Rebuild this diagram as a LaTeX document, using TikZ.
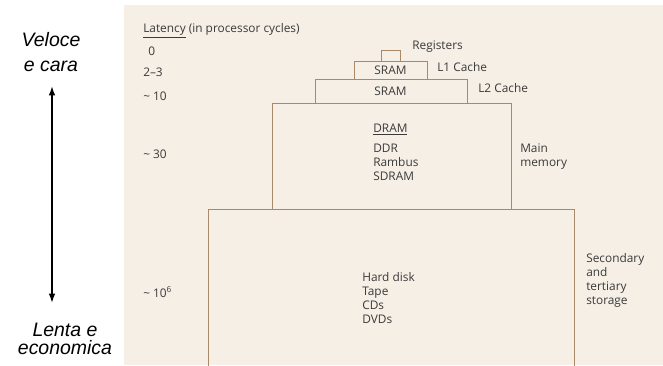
\documentclass[tikz,border=0pt]{standalone}
\usepackage{fontspec}
\setmainfont{Open Sans}
\newfontfamily\handfont{Liberation Sans}
\usetikzlibrary{arrows.meta,positioning}
\definecolor{paper}{HTML}{F6EFE6}
\definecolor{rule}{HTML}{A88A68}
\definecolor{ink}{HTML}{3A3A3A}

\begin{document}
\begin{tikzpicture}[x=0.75pt,y=-0.75pt,>=Latex,
 font=\fontsize{8.9}{10.5}\selectfont,text=ink,
 lvl/.style={draw=rule,line width=0.6pt},
 lbl/.style={inner sep=0,anchor=mid west},
 blk/.style={inner sep=0,anchor=north west,align=left},
 hand/.style={font=\handfont\itshape\fontsize{14.6}{19}\selectfont,text=black,inner sep=0,align=center,anchor=north}]
 \useasboundingbox (0,0) rectangle (663,365);
 \fill[paper] (124,5) rectangle (663,365);
 % latency column
 \node[lbl] (lat) at (143,29) {\underline{Latency} (in processor cycles)};
 \node[lbl] (c0) at (148,52) {0};
 \node[lbl] (c1) at (143,73) {2--3};
 \node[lbl] (c2) at (143,97) {\textasciitilde\ 10};
 \node[lbl] (c3) at (143,155) {\textasciitilde\ 30};
 \node[lbl] (c4) at (143,294) {\textasciitilde\ 10\textsuperscript{6}};
 % the levels
 \draw[lvl] (381,50) rectangle (400,61);
 \draw[lvl] (354,61) rectangle (427,79);
 \draw[lvl] (315,79) rectangle (467,103);
 \draw[lvl] (272,103) rectangle (511,209);
 \draw[lvl] (208,366) |- (574,209) -- (574,366);
 \node[lbl] (reg) at (412,46) {Registers};
 \node (sram1) at (390.5,70.5) {SRAM};
 \node[lbl] (l1) at (437,68) {L1 Cache};
 \node (sram2) at (390.5,91.5) {SRAM};
 \node[lbl] (l2) at (478,89) {L2 Cache};
 \node[blk] (dram) at (373,124) {\underline{DRAM}\\[4.5pt]DDR\\Rambus\\SDRAM};
 \node[blk] (main) at (520,144) {Main\\memory};
 \node[blk] (disk) at (362,272) {Hard disk\\Tape\\CDs\\DVDs};
 \node[blk] (store) at (586,253) {Secondary\\and\\tertiary\\storage};
 % speed / cost axis
 \node[hand] (fast) at (51,32) {Veloce\\e cara};
 \node[hand] (slow) at (65,323) {Lenta e\\[-5.5pt]economica};
 \coordinate (up) at (52,86);
 \coordinate (down) at (52,303);
 \draw[{Latex[length=7pt,width=5pt]}-{Latex[length=7pt,width=5pt]},line width=1.3pt] (up) -- (down);
\end{tikzpicture}
\end{document}
